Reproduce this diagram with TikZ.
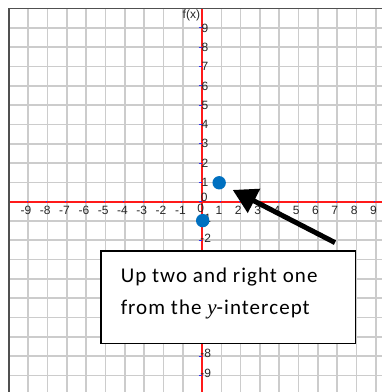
\documentclass[tikz,border=0pt]{standalone}
\usepackage{fontspec}
\setmainfont{Liberation Sans}
\newfontfamily\notefont{Carlito}[LetterSpace=5]
\newfontfamily\varfont{Liberation Serif}
\usetikzlibrary{arrows.meta}
\definecolor{gridgray}{HTML}{CCCCCC}
\definecolor{axisred}{HTML}{FF1A1A}
\definecolor{tickblue}{HTML}{3030F0}
\definecolor{dotblue}{HTML}{0070C0}
\definecolor{framegray}{HTML}{505050}
\tikzset{
  gridline/.style={draw=gridgray, line width=1.6pt},
  axisline/.style={draw=axisred, line width=1.8pt},
  frameline/.style={draw=framegray, line width=1.2pt},
  tickmark/.style={draw=tickblue, line width=1pt},
  numlab/.style={font=\fontsize{12}{12}\selectfont, text=black!85, inner sep=0pt},
  pointdot/.style={fill=dotblue, draw=none, circle, minimum size=13.4pt, inner sep=0pt},
  notebox/.style={draw=black, line width=1.7pt, fill=white, rectangle, inner sep=0pt, anchor=north west},
  notetext/.style={font=\notefont\fontsize{21}{21}\selectfont, text=black, inner sep=0pt, anchor=base west},
  bigarrow/.style={draw=black, line width=5pt, -{Triangle[length=24pt,width=26pt]}}
}
\begin{document}
\begin{tikzpicture}[x=19.3pt,y=19.3pt]
\useasboundingbox[fill=white] (-10.466,-9.86) rectangle (9.326,10.45);
% grid
\foreach \i in {-9,...,9} {
  \draw[gridline] (\i,-9.86) -- (\i,10);
  \draw[gridline] (-10,\i) -- (9.326,\i);
}
% axes
\draw[axisline] (0,-9.86) -- (0,10);
\draw[axisline] (-10,0) -- (9.326,0);
% frame
\draw[frameline] (-10,-9.86) -- (-10,10) -- (9.326,10);
% ticks
\foreach \i in {-9,...,-1,1,2,...,9} {
  \draw[tickmark] (\i-0.05,-0.04) -- (\i-0.05,0.06);
}
\foreach \i in {-9,...,9} {
  \draw[tickmark] (-0.17,\i) -- (0,\i);
}
% x labels
\foreach \i in {-9,...,-1,1,2,...,9} {
  \node[numlab] (xl\i) at (\i-0.12,-0.44) {\i};
}
\node[numlab] (xl0) at (-0.07,-0.34) {0};
% y labels (those hidden behind the note box are left out)
\foreach \i in {1,...,9} {
  \node[numlab] (yl\i) at (0.15,\i) {\i};
}
\foreach \i in {-9,-8,-2,-1} {
  \node[numlab] (yl\i) at (0.19,\i+0.12) {\i};
}
\node[numlab] (yl0) at (0.11,0.24) {0};
\node[numlab] (fx) at (-0.55,9.67) {f(x)};
% points
\node[pointdot] (p1) at (0.89,0.98) {};
\node[pointdot] (p0) at (0.036,-0.98) {};
% note box
\node[notebox, minimum width=254.7pt, minimum height=92.7pt] (box) at (-5.285,-2.503) {};
\node[notetext] (t1) at (-4.22,-4.176) {Up two and right one};
\node[notetext] (t2) at (-4.22,-5.84) {from the {\varfont\itshape y}-intercept};
% arrow
\coordinate (tail) at (6.89,-2.12);
\coordinate (tip) at (1.59,0.61);
\draw[bigarrow] (tail) -- (tip);
\end{tikzpicture}
\end{document}
